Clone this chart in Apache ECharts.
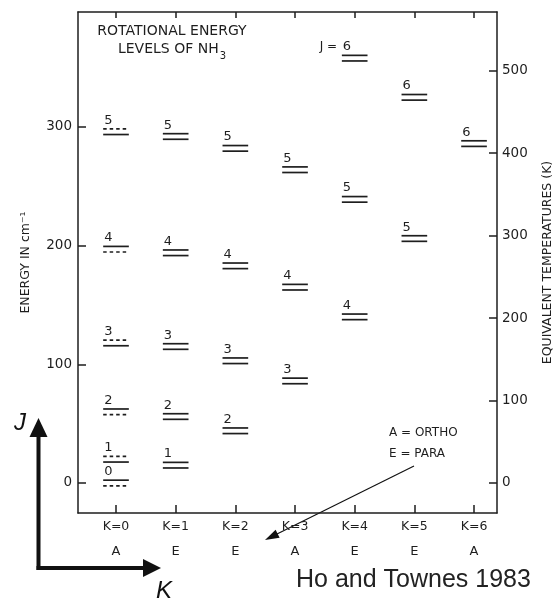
<!DOCTYPE html>
<html><head><meta charset="utf-8">
<script src="https://cdn.jsdelivr.net/npm/echarts@6/dist/echarts.min.js"></script>
<style>html,body{margin:0;padding:0;background:#fff}#c{width:556px;height:602px}</style>
</head><body><div id="c"></div>
<script>
// ---- data ----
const kValues = [0, 1, 2, 3, 4, 5, 6];
const kLabels = ['K=0', 'K=1', 'K=2', 'K=3', 'K=4', 'K=5', 'K=6'];
const symmetryLabels = ['A', 'E', 'E', 'A', 'E', 'E', 'A'];
const energyTicks = [0, 100, 200, 300];
const tempTicks = [0, 100, 200, 300, 400, 500];

const jK0 = [0, 1, 2, 3, 4, 5];   const eK0 = [0, 20, 60, 118, 197, 296];
const jK1 = [1, 2, 3, 4, 5];      const eK1 = [15, 56, 115, 194, 292];
const jK2 = [2, 3, 4, 5];         const eK2 = [44, 103, 183, 282];
const jK3 = [3, 4, 5];            const eK3 = [86, 165, 264];
const jK4 = [4, 5, 6];            const eK4 = [140, 239, 358];
const jK5 = [5, 6];               const eK5 = [206, 325];
const jK6 = [6];                  const eK6 = [286];
// for K=0 one inversion component is missing (drawn dashed), indexed by J
const k0Missing = ['lower', 'upper', 'lower', 'upper', 'lower', 'upper'];

const cmToKelvin = 1.4388;
const energyMin = -25.3, energyMax = 396.9;

// ---- build series data ----
const levelTable = [[0, jK0, eK0], [1, jK1, eK1], [2, jK2, eK2], [3, jK3, eK3], [4, jK4, eK4], [5, jK5, eK5], [6, jK6, eK6]];
const levelData = [];
levelTable.forEach(([k, js, es]) => {
  js.forEach((j, i) => {
    const miss = k === 0 ? (k0Missing[j] === 'upper' ? 1 : 2) : 0;
    levelData.push([k, es[i], j, miss]);
  });
});
const prefixLevel = { k: 4, j: 6 };

const INK = '#1e1e1e';
const FONT = 'DejaVu Sans';

const chart = echarts.init(document.getElementById('c'));
chart.setOption({
  backgroundColor: '#fff',
  animation: false,
  title: {
    text: 'ROTATIONAL ENERGY\nLEVELS OF NH{s|3}',
    left: 172, top: 23, textAlign: 'center', padding: 0,
    textStyle: {
      fontFamily: FONT, fontSize: 14, fontWeight: 'normal', color: INK, lineHeight: 17.5,
      rich: { s: { fontFamily: FONT, fontSize: 10, color: INK, verticalAlign: 'bottom', lineHeight: 17.5, padding: [0, 0, -3, 1] } }
    }
  },
  grid: { left: 78, right: 59, top: 12, bottom: 89, containLabel: false, outerBoundsMode: 'none' },
  xAxis: [{
    type: 'value', position: 'bottom', min: -0.637, max: 6.385,
    axisLine: { show: true, onZero: false, lineStyle: { color: INK, width: 1.5 } },
    axisTick: { show: true, inside: true, length: 8, customValues: kValues, lineStyle: { color: INK, width: 1.5 } },
    splitLine: { show: false },
    axisLabel: {
      customValues: kValues, margin: 2,
      formatter: v => { const i = kValues.indexOf(v); return '{k|' + kLabels[i] + '}\n{s|' + symmetryLabels[i] + '}'; },
      rich: {
        k: { fontFamily: FONT, fontSize: 12.5, color: INK, lineHeight: 24 },
        s: { fontFamily: FONT, fontSize: 13, color: INK, lineHeight: 26 }
      }
    }
  }, {
    type: 'value', position: 'top', min: -0.637, max: 6.385,
    axisLine: { show: true, onZero: false, lineStyle: { color: INK, width: 1.5 } },
    axisTick: { show: true, inside: true, length: 6, customValues: kValues, lineStyle: { color: INK, width: 1.5 } },
    axisLabel: { show: false }, splitLine: { show: false }
  }],
  yAxis: [{
    type: 'value', position: 'left', min: energyMin, max: energyMax,
    name: 'ENERGY IN cm⁻¹', nameLocation: 'middle', nameRotate: 90, nameGap: 46,
    nameTextStyle: { fontFamily: FONT, fontSize: 12.5, color: INK },
    axisLine: { show: true, onZero: false, lineStyle: { color: INK, width: 1.5 } },
    axisTick: { show: true, inside: true, length: 8, customValues: energyTicks, lineStyle: { color: INK, width: 1.5 } },
    axisLabel: { customValues: energyTicks, margin: 6, fontFamily: FONT, fontSize: 13.5, color: INK },
    splitLine: { show: false }
  }, {
    type: 'value', position: 'right', min: energyMin * cmToKelvin, max: energyMax * cmToKelvin,
    name: 'EQUIVALENT TEMPERATURES (K)', nameLocation: 'middle', nameRotate: 90, nameGap: 44,
    nameTextStyle: { fontFamily: FONT, fontSize: 12.5, color: INK },
    axisLine: { show: true, onZero: false, lineStyle: { color: INK, width: 1.5 } },
    axisTick: { show: true, inside: true, length: 8, customValues: tempTicks, lineStyle: { color: INK, width: 1.5 } },
    axisLabel: { customValues: tempTicks, margin: 5, fontFamily: FONT, fontSize: 13.5, color: INK },
    splitLine: { show: false }
  }],
  series: [{
    type: 'custom',
    xAxisIndex: 0, yAxisIndex: 0,
    encode: { x: 0, y: 1 },
    data: levelData,
    renderItem: (params, api) => {
      const k = api.value(0), e = api.value(1), j = api.value(2), miss = api.value(3);
      const a = api.coord([k - 0.215, e]);
      const b = api.coord([k + 0.215, e]);
      const gap = 2.8;
      const line = (y, dashed) => ({
        type: 'line',
        shape: { x1: a[0], y1: y, x2: b[0], y2: y },
        style: { stroke: INK, lineWidth: 1.7, lineDash: dashed ? [3.5, 3] : null }
      });
      const children = [
        line(a[1] - gap, miss === 1),
        line(a[1] + gap, miss === 2),
        { type: 'text', style: { text: String(j), x: a[0] + 1, y: a[1] - gap - 2, align: 'left', verticalAlign: 'bottom', font: '13px "DejaVu Sans"', fill: INK } }
      ];
      if (k === prefixLevel.k && j === prefixLevel.j) {
        children.push({ type: 'text', style: { text: 'J = ', x: a[0] - 1, y: a[1] - gap - 2, align: 'right', verticalAlign: 'bottom', font: '12px "DejaVu Sans"', fill: INK } });
      }
      return { type: 'group', children };
    }
  }],
  graphic: [
    // J / K schematic arrows
    { type: 'line', shape: { x1: 38.5, y1: 570, x2: 38.5, y2: 434 }, style: { stroke: '#111', lineWidth: 4 } },
    { type: 'polygon', shape: { points: [[38.5, 418], [29.5, 437], [47.5, 437]] }, style: { fill: '#111' } },
    { type: 'line', shape: { x1: 36.5, y1: 568, x2: 145, y2: 568 }, style: { stroke: '#111', lineWidth: 4 } },
    { type: 'polygon', shape: { points: [[161, 568], [143, 559], [143, 577]] }, style: { fill: '#111' } },
    { type: 'text', style: { text: 'J', x: 20, y: 423, align: 'center', verticalAlign: 'middle', font: 'italic 24px "Liberation Sans"', fill: '#111' } },
    { type: 'text', style: { text: 'K', x: 164, y: 591, align: 'center', verticalAlign: 'middle', font: 'italic 24px "Liberation Sans"', fill: '#111' } },
    // legend note and pointer
    { type: 'text', style: { text: 'A = ORTHO', x: 389, y: 433, align: 'left', verticalAlign: 'middle', font: '12px "DejaVu Sans"', fill: INK } },
    { type: 'text', style: { text: 'E = PARA', x: 389, y: 454, align: 'left', verticalAlign: 'middle', font: '12px "DejaVu Sans"', fill: INK } },
    { type: 'line', shape: { x1: 414, y1: 466, x2: 277, y2: 534 }, style: { stroke: '#111', lineWidth: 1.2 } },
    { type: 'polygon', shape: { points: [[265, 540], [279.6, 537.8], [275.6, 529.8]] }, style: { fill: '#111' } },
    // credit
    { type: 'text', style: { text: 'Ho and Townes 1983', x: 296, y: 580, align: 'left', verticalAlign: 'middle', font: '25px "Liberation Sans"', fill: '#222' } }
  ]
});
</script>
</body></html>
